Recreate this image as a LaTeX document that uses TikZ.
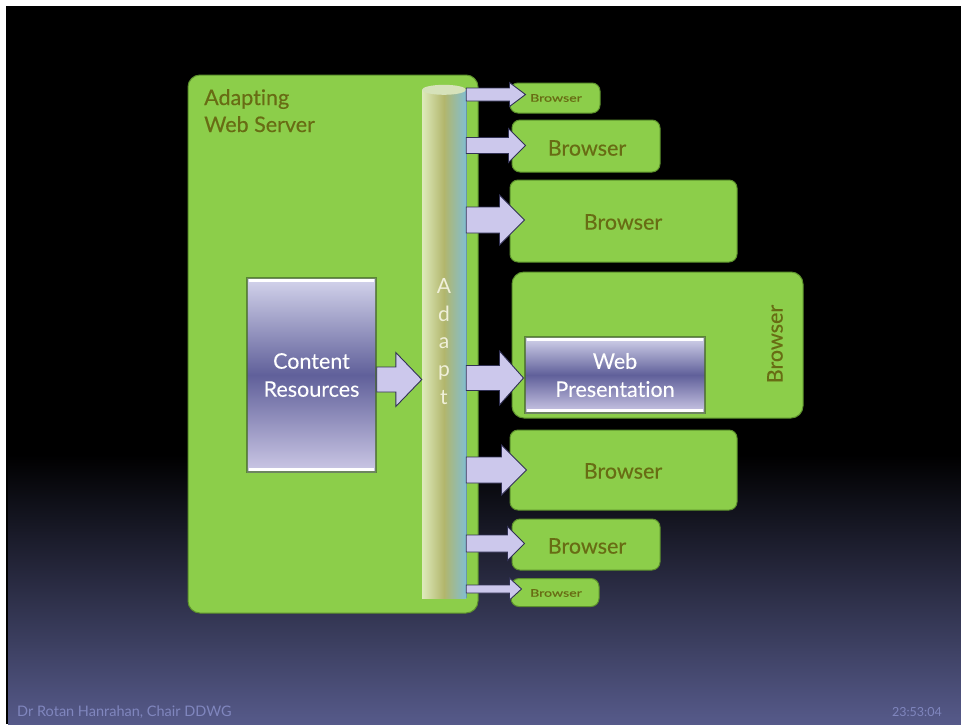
\documentclass[tikz,border=0pt]{standalone}
\usepackage{fontspec}
\setmainfont{Lato}[Ligatures=NoCommon]
\newfontfamily\heavyfont{Lato}[Ligatures=NoCommon, FakeBold=0.35]
\usetikzlibrary{calc}

\definecolor{srvgreen}{RGB}{140,206,74}
\definecolor{srvedge}{RGB}{92,145,44}
\definecolor{olivetext}{RGB}{104,108,20}
\definecolor{arrowfill}{RGB}{204,200,236}
\definecolor{arrowedge}{RGB}{50,50,85}
\definecolor{slidebot}{RGB}{86,90,138}
\definecolor{footertext}{RGB}{128,134,190}
\definecolor{cylleft}{RGB}{222,234,188}
\definecolor{cylmid}{RGB}{178,182,108}
\definecolor{cylright}{RGB}{130,190,208}
\definecolor{cyltop}{RGB}{214,226,186}
\definecolor{boxtop}{RGB}{212,212,236}
\definecolor{boxmid}{RGB}{96,96,154}
\definecolor{boxbot}{RGB}{204,200,230}
\definecolor{creamtext}{RGB}{240,240,218}
\definecolor{boxglow}{RGB}{70,105,40}

\tikzset{
  bigfont/.style={font=\heavyfont\fontsize{21.5}{28}\selectfont},
  browserbox/.style={draw=srvedge, fill=srvgreen, line width=1pt,
    rounded corners=8pt, inner sep=0pt},
  browsertext/.style={text=olivetext, bigfont},
  tinytext/.style={text=olivetext, font=\heavyfont\fontsize{10.5}{12}\selectfont, xscale=1.35},
  purplebox/.style={top color=boxtop, bottom color=boxbot, middle color=boxmid,
    draw=boxglow, draw opacity=0.7, line width=1.4pt, inner sep=0pt,
    text=white, align=center, bigfont},
  fatarrow/.style={fill=arrowfill, draw=arrowedge, line width=0.9pt, line join=miter},
  highlight/.style={white, line width=2.6pt},
}

% fat block arrow: start point, tip point, head length, shaft half-height, head half-height
\newcommand\blockarrow[5]{%
  \path[fatarrow] let \p1=(#1), \p2=(#2) in
    (\x1,\y2-#4pt) -- (\x2-#3pt,\y2-#4pt) -- (\x2-#3pt,\y2-#5pt) -- (\x2,\y2)
    -- (\x2-#3pt,\y2+#5pt) -- (\x2-#3pt,\y2+#4pt) -- (\x1,\y2+#4pt) -- cycle;}

\begin{document}
\begin{tikzpicture}[x=1pt,y=-1pt]
\useasboundingbox (0,0) rectangle (961,724);

% slide background
\fill[white] (0,0) rectangle (961,724);
\fill[black] (6,6) rectangle (961,724);
\shade[top color=black, bottom color=slidebot] (8,455) rectangle (961,724);

% server
\node[draw=srvedge, fill=srvgreen, line width=1pt, rounded corners=12pt,
      minimum width=290pt, minimum height=538pt] (server) at (333,344) {};
\node[anchor=north west, inner sep=0pt, text=olivetext, align=left,
      font=\heavyfont\fontsize{21.5}{27}\selectfont] (title) at (204,89) {Adapting\\Web Server};

% browsers
\node[browserbox, minimum width=90pt, minimum height=30pt] (b1) at (555,98) {};
\node[browserbox, minimum width=148pt, minimum height=52pt] (b2) at (586,146) {};
\node[browserbox, minimum width=227pt, minimum height=82pt] (b3) at (623.5,221) {};
\node[browserbox, minimum width=291pt, minimum height=146pt, rounded corners=12pt] (b4) at (657.5,345) {};
\node[browserbox, minimum width=227pt, minimum height=80pt] (b5) at (623.5,470) {};
\node[browserbox, minimum width=148pt, minimum height=51pt] (b6) at (586,544.5) {};
\node[browserbox, minimum width=88pt, minimum height=28pt] (b7) at (555,592.5) {};

\node[tinytext] at (556,98) {Browser};
\node[browsertext] at (587,148) {Browser};
\node[browsertext] at (623,222) {Browser};
\node[browsertext, rotate=90] at (775,344) {Browser};
\node[browsertext] at (623,471) {Browser};
\node[browsertext] at (587,546) {Browser};
\node[tinytext] at (556,593) {Browser};

% content resources
\node[purplebox, minimum width=129pt, minimum height=194pt] (content) at (311.5,375)
  {Content\\Resources};
\draw[highlight] ($(content.north west)+(3,3)$) -- ($(content.north east)+(-3,3)$);
\draw[highlight] ($(content.south west)+(3,-3)$) -- ($(content.south east)+(-3,-3)$);

% web presentation
\node[purplebox, minimum width=180pt, minimum height=76pt] (webpres) at (615,375)
  {Web\\Presentation};
\draw[highlight] ($(webpres.north west)+(3,3)$) -- ($(webpres.north east)+(-3,3)$);
\draw[highlight] ($(webpres.south west)+(3,-3)$) -- ($(webpres.south east)+(-3,-3)$);

% adapt cylinder
\node[minimum width=44pt, minimum height=508pt, inner sep=0pt,
      left color=cylleft, right color=cylright, middle color=cylmid] (cyl) at (444,344) {};
\draw[cylright!80!black, line width=0.6pt] (cyl.north east) -- (cyl.south east);
\fill[cyltop] (cyl.north) ellipse [x radius=22pt, y radius=5pt];
\node[anchor=north, inner sep=0pt, text=creamtext, align=center,
      font=\fontsize{21}{27.8}\selectfont] (adapt) at (cyl.center |- 0,278) {A\\d\\a\\p\\t};

% tips of the arrows
\coordinate (t1) at ($(b1.west)+(16,-3.5)$);
\coordinate (t2) at ($(b2.west)+(14,-0.5)$);
\coordinate (t3) at ($(b3.west)+(15,-1)$);
\coordinate (t4) at ($(b4.west)+(12,33)$);
\coordinate (t5) at ($(b5.west)+(17,0)$);
\coordinate (t6) at ($(b6.west)+(13,-1)$);
\coordinate (t7) at ($(b7.west)+(11,-3.5)$);
\coordinate (tc) at (cyl.west |- 0,379.5);

% arrows
\blockarrow{content.east}{tc}{26}{12.5}{27}
\blockarrow{cyl.east}{t1}{16}{6.5}{12}
\blockarrow{cyl.east}{t2}{17}{8}{17}
\blockarrow{cyl.east}{t3}{25}{13}{25}
\blockarrow{cyl.east}{t4}{24}{12.5}{27}
\blockarrow{cyl.east}{t5}{25}{13}{25}
\blockarrow{cyl.east}{t6}{17}{8.5}{17}
\blockarrow{cyl.east}{t7}{12}{4}{11}

% footer
\node[anchor=base west, inner sep=0pt, text=footertext, font=\fontsize{14.5}{16}\selectfont]
  (author) at (17,716) {Dr Rotan Hanrahan, Chair DDWG};
\node[anchor=base east, inner sep=0pt, text=footertext, font=\fontsize{12.5}{14}\selectfont]
  (clock) at (942,716) {23:53:04};
\end{tikzpicture}
\end{document}
